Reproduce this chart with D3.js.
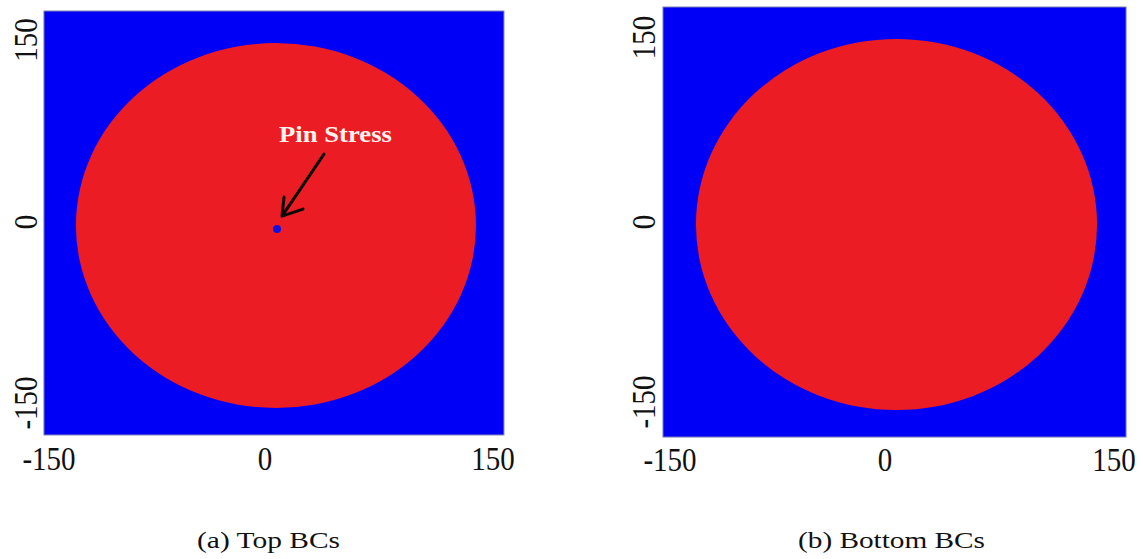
<!DOCTYPE html>
<html>
<head>
<meta charset="utf-8">
<script src="https://cdn.jsdelivr.net/npm/d3@7/dist/d3.min.js"></script>
<style>
  html, body { margin: 0; padding: 0; background: #ffffff; }
  svg { display: block; }
</style>
</head>
<body>
<script>
// Stress maps for the two boundary-condition cases (top / bottom)
const panelCaptions = ["(a) Top BCs", "(b) Bottom BCs"];
const tickValues = [-150, 0, 150];
const tickLabels = ["-150", "0", "150"];

// Extent of the plotted square in data units: [xMin, xMax, yMin, yMax]
const domainExtent = [
  [-153.5, 157.2, -176.5, 173.9],
  [-154.9, 157.9, -179.2, 174.8]
];
// Extent of the high-stress (red) region in data units: [xMin, xMax, yMin, yMax]
const stressRegion = [
  [-131.3, 138.8, -154.1, 147.5],
  [-131.9, 138.9, -156.7, 148.8]
];
// Pin location (top BCs only) and its annotation
const pinPoint = [7.9, -5.8];
const pinLabel = "Pin Stress";
const arrowFrom = [38.8, 56.0];
const arrowTo = [11.2, 4.9];
const pinLabelAt = [9.2, 65.9];

const colors = { low: "#0000f7", high: "#ec1c24", pin: "#1010e0" };

// Pixel anchors of the tick marks for each panel
const layout = [
  { xRange: [49, 265, 493], yRange: [403, 222, 40], yLabelX: 37, xLabelY: 470, captionX: 268.5, captionW: 143 },
  { xRange: [670, 885, 1114], yRange: [402, 222, 37.5], yLabelX: 655, xLabelY: 471, captionX: 891.5, captionW: 187 }
];

const width = 1143, height = 559;
const svg = d3.select("body").append("svg")
  .attr("width", width).attr("height", height);

const serif = "'Liberation Serif', 'Times New Roman', serif";

layout.forEach((L, i) => {
  const x = d3.scaleLinear().domain(tickValues).range(L.xRange);
  const y = d3.scaleLinear().domain(tickValues).range(L.yRange);
  const g = svg.append("g");

  // background field (low stress)
  const [dx0, dx1, dy0, dy1] = domainExtent[i];
  g.append("rect")
    .attr("x", x(dx0)).attr("y", y(dy1))
    .attr("width", x(dx1) - x(dx0)).attr("height", y(dy0) - y(dy1))
    .attr("fill", colors.low)
    .attr("stroke", "#8080b8").attr("stroke-width", 1);

  // high-stress region
  const [rx0, rx1, ry0, ry1] = stressRegion[i];
  g.append("ellipse")
    .attr("cx", (x(rx0) + x(rx1)) / 2)
    .attr("cy", (y(ry0) + y(ry1)) / 2)
    .attr("rx", (x(rx1) - x(rx0)) / 2)
    .attr("ry", (y(ry0) - y(ry1)) / 2)
    .attr("fill", colors.high);

  // x tick labels
  g.selectAll(".xt").data(tickValues).join("text")
    .attr("class", "xt")
    .attr("transform", d => `translate(${x(d)},${L.xLabelY}) scale(1,1.15)`)
    .attr("text-anchor", "middle")
    .attr("font-family", serif).attr("font-size", 29).attr("fill", "#111")
    .text((d, k) => tickLabels[k]);

  // y tick labels (rotated)
  g.selectAll(".yt").data(tickValues).join("text")
    .attr("class", "yt")
    .attr("transform", d => `translate(${L.yLabelX},${y(d)}) rotate(-90) scale(1,1.15)`)
    .attr("text-anchor", "middle")
    .attr("font-family", serif).attr("font-size", 29).attr("fill", "#111")
    .text((d, k) => tickLabels[k]);

  // caption
  svg.append("text")
    .attr("x", L.captionX).attr("y", 548)
    .attr("text-anchor", "middle")
    .attr("font-family", serif).attr("font-size", 24).attr("fill", "#111")
    .attr("textLength", L.captionW).attr("lengthAdjust", "spacingAndGlyphs")
    .text(panelCaptions[i]);

  if (i === 0) {
    // pin location
    g.append("circle")
      .attr("cx", x(pinPoint[0])).attr("cy", y(pinPoint[1]))
      .attr("r", 4).attr("fill", colors.pin);

    // annotation arrow
    const tx = x(arrowTo[0]), ty = y(arrowTo[1]);
    g.append("path")
      .attr("d", `M${x(arrowFrom[0])},${y(arrowFrom[1])} L${tx},${ty}` +
                 ` M${tx + 2},${ty - 19} L${tx},${ty} L${tx + 21},${ty - 7}`)
      .attr("fill", "none").attr("stroke", "#0a0a0a")
      .attr("stroke-width", 3).attr("stroke-linecap", "round").attr("stroke-linejoin", "round");

    g.append("text")
      .attr("x", x(pinLabelAt[0])).attr("y", y(pinLabelAt[1]))
      .attr("font-family", serif).attr("font-weight", "bold")
      .attr("font-size", 24).attr("fill", "#fbf3ec")
      .attr("textLength", 113).attr("lengthAdjust", "spacingAndGlyphs")
      .text(pinLabel);
  }
});
</script>
</body>
</html>
